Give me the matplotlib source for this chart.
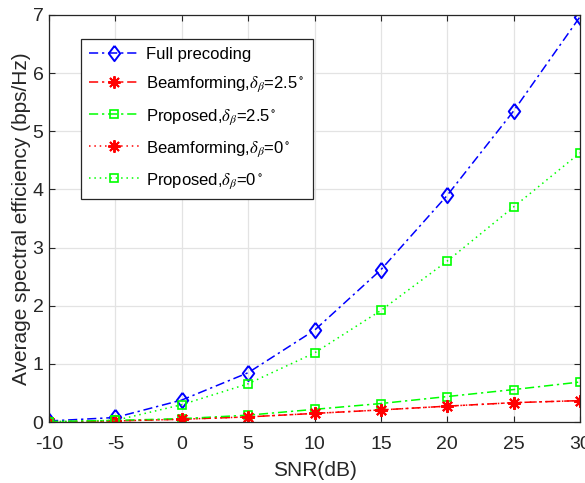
import matplotlib
matplotlib.use("Agg")
import matplotlib.pyplot as plt

snr = [-10, -5, 0, 5, 10, 15, 20, 25, 30]
full_precoding = [0.02, 0.08, 0.38, 0.85, 1.58, 2.62, 3.90, 5.35, 6.97]
beam_25 = [0.00, 0.02, 0.05, 0.09, 0.15, 0.21, 0.275, 0.335, 0.37]
prop_25 = [0.01, 0.03, 0.06, 0.12, 0.22, 0.32, 0.44, 0.56, 0.69]
beam_0 = [0.00, 0.02, 0.05, 0.09, 0.15, 0.21, 0.275, 0.335, 0.37]
prop_0 = [0.01, 0.03, 0.30, 0.66, 1.19, 1.92, 2.77, 3.70, 4.63]

xticks = [-10, -5, 0, 5, 10, 15, 20, 25, 30]
yticks = [0, 1, 2, 3, 4, 5, 6, 7]

plt.rcParams['font.family'] = ['Liberation Sans', 'DejaVu Sans']
plt.rcParams['mathtext.fontset'] = 'stix'

fig = plt.figure(figsize=(5.85, 4.83), dpi=100)
ax = fig.add_axes([0.0838, 0.126, 0.9077, 0.843])

diamond = [(0, 1), (0.75, 0), (0, -1), (-0.75, 0), (0, 1)]
asterisk = (8, 2, 0)
dashdot = (0, (6, 2.5, 1.5, 2.5))
dotted = (0, (1, 2.5))
lw = 1.1

ax.plot(snr, full_precoding, color='#0000ff', linestyle=dashdot, lw=lw, marker=diamond,
        markersize=11, markerfacecolor='none', markeredgewidth=1.4,
        label='Full precoding')
ax.plot(snr, beam_25, color='#ff0000', linestyle=dashdot, lw=lw, marker=asterisk,
        markersize=9, markeredgewidth=1.4,
        label=r'Beamforming,$\delta_\beta$=2.5$^\circ$')
ax.plot(snr, prop_25, color='#00ff00', linestyle=dashdot, lw=lw, marker='s',
        markersize=6, markerfacecolor='none', markeredgewidth=1.2,
        label=r'Proposed,$\delta_\beta$=2.5$^\circ$')
ax.plot(snr, beam_0, color='#ff0000', linestyle=dotted, lw=lw, marker=asterisk,
        markersize=9, markeredgewidth=1.4,
        label=r'Beamforming,$\delta_\beta$=0$^\circ$')
ax.plot(snr, prop_0, color='#00ff00', linestyle=dotted, lw=lw, marker='s',
        markersize=6, markerfacecolor='none', markeredgewidth=1.2,
        label=r'Proposed,$\delta_\beta$=0$^\circ$')

ax.set_xlim(-10, 30)
ax.set_ylim(0, 7)
ax.set_xticks(xticks)
ax.set_yticks(yticks)
ax.set_xticklabels([str(t) for t in xticks], fontsize=14)
ax.set_yticklabels([str(t) for t in yticks], fontsize=14)
ax.tick_params(direction='in', top=True, right=True, length=4, color='#262626',
               labelcolor='#262626')
ax.tick_params(axis='x', pad=10)
ax.tick_params(axis='y', pad=4)
ax.grid(True, color='#e3e3e3', lw=0.9)
ax.set_axisbelow(True)
for s in ax.spines.values():
    s.set_color('#262626')
    s.set_linewidth(0.9)

ax.set_xlabel('SNR(dB)', fontsize=15, color='#262626', labelpad=6)
ax.set_ylabel('Average spectral efficiency (bps/Hz)', fontsize=15, color='#262626', labelpad=1)

leg = ax.legend(loc='upper left', bbox_to_anchor=(0.0603, 0.941), borderaxespad=0,
                fontsize=12, frameon=True, fancybox=False, edgecolor='#262626',
                framealpha=1, handlelength=3.0, labelspacing=0.75, borderpad=0.5,
                handletextpad=0.4)
leg.get_frame().set_linewidth(0.9)

fig.savefig('out.png', dpi=100)
